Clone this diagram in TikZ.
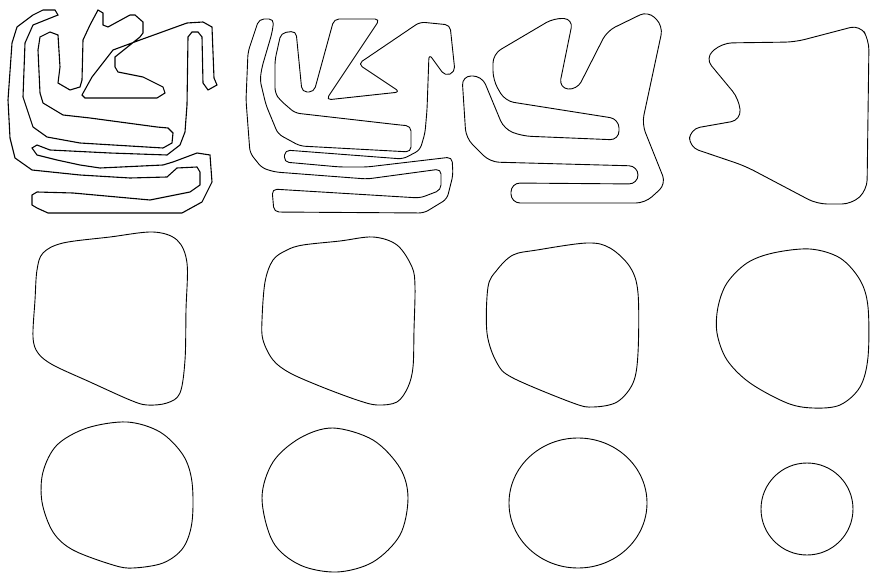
\documentclass[tikz,border=0pt]{standalone}

\begin{document}
\begin{tikzpicture}[x=1pt, y=-1pt,
    curve/.style={line width=0.9pt, line join=round},
    jagged/.style={line width=1.1pt, line join=miter}]
    \useasboundingbox (0,0) rectangle (870,577);

    % row 1
    \draw[jagged] (55,10) -- (43,10) -- (33,15) -- (17,27) -- (12,43) -- (8,100) -- (10,138) -- (15,158) -- (32,170)
        -- (80,175) -- (130,178) -- (167,177) -- (177,168) -- (197,167) -- (200,172) -- (200,185) -- (190,192)
        -- (150,200) -- (73,193) -- (37,192) -- (32,195) -- (32,205) -- (37,208) -- (48,213) -- (182,213)
        -- (202,202) -- (212,182) -- (210,155) -- (197,153) -- (173,162) -- (163,165) -- (100,168) -- (80,165)
        -- (57,160) -- (37,155) -- (32,148) -- (37,145) -- (50,150) -- (110,153) -- (167,155) -- (180,145)
        -- (185,132) -- (187,105) -- (188,37) -- (192,32) -- (198,32) -- (202,37) -- (203,83) -- (208,90)
        -- (217,85) -- (214,78) -- (212,27) -- (203,22) -- (187,23) -- (140,40) -- (113,50) -- (92,77)
        -- (82,95) -- (85,98) -- (157,98) -- (165,93) -- (163,87) -- (143,77) -- (118,72) -- (115,67)
        -- (115,57) -- (140,37) -- (143,33) -- (143,22) -- (135,15) -- (130,15) -- (108,27) -- (103,25)
        -- (103,13) -- (98,10) -- (90,25) -- (83,40) -- (82,80) -- (80,87) -- (70,90) -- (58,83) -- (60,67)
        -- (58,35) -- (50,32) -- (40,37) -- (38,50) -- (40,93) -- (43,103) -- (63,115) -- (90,118)
        -- (157,127) -- (168,128) -- (173,133) -- (172,143) -- (163,148) -- (80,143) -- (47,137) -- (33,127)
        -- (23,97) -- (25,43) -- (33,25) -- (58,15) -- cycle;

    \draw[curve, rounded corners=5pt] (259,19) -- (248,52) -- (246,100) -- (250,153) -- (262,168) -- (275,172)
        -- (367,179) -- (441,169) -- (441,190) -- (420,198) -- (272,189) -- (274,212) -- (424,213) -- (447,199)
        -- (453,175) -- (452,157) -- (367,167) -- (340,167) -- (284,162) -- (285,150) -- (403,159) -- (420,150)
        -- (425,133) -- (427,110) -- (429,54) -- (445,76) -- (455,72) -- (450,25) -- (420,22) -- (358,64)
        -- (400,92) -- (326,100) -- (380,19) -- (334,19) -- (314,92) -- (302,92) -- (296,31) -- (281,33)
        -- (275,60) -- (275,93) -- (280,100) -- (295,113) -- (400,125) -- (411,126) -- (411,152) -- (300,146)
        -- (278,134) -- (266,105) -- (260,80) -- (262,67) -- (272,33) -- (274,19) -- cycle;

    \draw[curve, rounded corners=9pt] (462,76) -- (466,138) -- (490,162) -- (638,166) -- (638,184) -- (511,183)
        -- (511,203) -- (645,203) -- (666,184) -- (642,124) -- (663,26) -- (648,11) -- (607,31) -- (577,90)
        -- (559,88) -- (573,19) -- (554,18) -- (493,54) -- (493,80) -- (505,101) -- (619,119) -- (619,140)
        -- (522,136) -- (504,129) -- (482,76) -- cycle;

    \draw[curve, rounded corners=10pt] (722,43) -- (795,42) -- (860,25) -- (869,40) -- (867,190) -- (852,204)
        -- (817,204) -- (745,166) -- (689,147) -- (690,129) -- (741,120) -- (739,99) -- (705,58) -- cycle;

    % row 2
    \draw[curve] plot[smooth cycle, tension=0.55] coordinates {(63,243) (110,237) (153,232) (177,240) (187,263)
        (186,310) (185,360) (180,393) (167,403) (147,405) (130,400) (90,382) (53,365) (38,353) (33,337)
        (35,300) (37,270) (43,253)};
    \draw[curve] plot[smooth cycle, tension=0.55] coordinates {(287,250) (303,245) (340,241) (373,237) (397,245)
        (412,267) (415,287) (414,330) (413,367) (408,387) (397,402) (377,405) (357,400) (322,387) (290,373)
        (273,360) (263,340) (262,320) (265,282) (273,260)};
    \draw[curve] plot[smooth cycle, tension=0.55] coordinates {(513,255) (537,250) (587,243) (610,248) (630,267)
        (638,293) (638,353) (633,383) (617,402) (593,407) (573,403) (513,378) (497,363) (487,333) (488,287)
        (497,270)};
    \draw[curve] plot[smooth cycle, tension=0.55] coordinates {(747,263) (773,253) (810,249) (840,258) (860,280)
        (868,307) (868,357) (860,387) (840,405) (813,408) (787,403) (750,383) (727,360) (717,333) (718,307)
        (727,283)};

    % row 3
    \draw[curve] plot[smooth cycle, tension=0.55] coordinates {(87,428) (127,422) (160,432) (183,455) (192,482)
        (192,522) (183,548) (163,563) (133,568) (113,565) (73,550) (53,532) (42,502) (43,472) (57,445)};
    \draw[curve] plot[smooth cycle, tension=0.55] coordinates {(300,438) (333,428) (373,440) (400,468) (408,498)
        (400,535) (373,562) (337,572) (300,565) (273,542) (262,498) (273,462)};
    \draw[curve] (578,503) ellipse [x radius=69, y radius=65];
    \draw[curve] (807,509) circle [radius=46];
\end{tikzpicture}
\end{document}
